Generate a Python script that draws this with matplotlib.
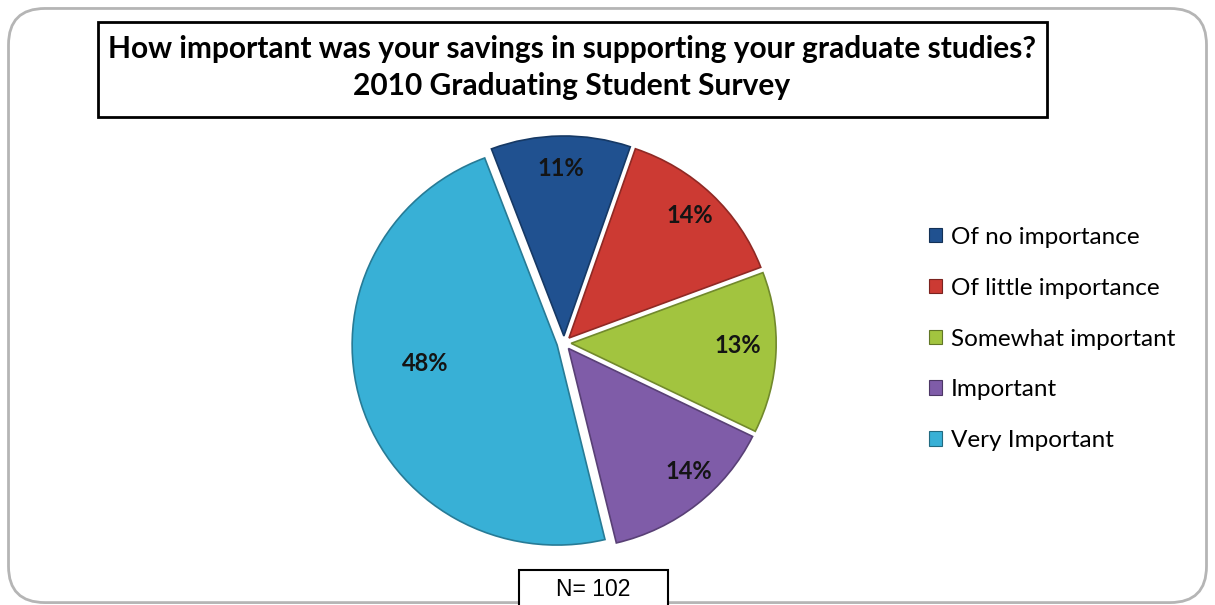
import matplotlib
matplotlib.use("Agg")
import numpy as np
import matplotlib.pyplot as plt
from matplotlib.colors import to_rgb
from matplotlib.patches import FancyBboxPatch, Rectangle, Patch

plt.rcParams['font.family'] = ['Lato', 'DejaVu Sans']

categories = ["Of no importance", "Of little importance", "Somewhat important",
              "Important", "Very Important"]
percents = [11, 14, 13, 14, 48]
colors = ["#205190", "#cc3a33", "#a2c43f", "#7f5ca8", "#38b0d6"]
title_lines = ["How important was your savings in supporting your graduate studies?",
               "2010 Graduating Student Survey"]
n_label = "N= 102"


def shade(c, f):
    r, g, b = to_rgb(c)
    return (r * f, g * f, b * f)


def main():
    fig = plt.figure(figsize=(12.15, 6.05), dpi=100)

    # outer rounded frame, kept behind everything
    frame = FancyBboxPatch((0.007, 0.004), 0.986, 0.982,
                           boxstyle="round,pad=0,rounding_size=0.03",
                           transform=fig.transFigure, facecolor="none",
                           edgecolor="#b5b5b5", linewidth=2, mutation_aspect=2,
                           zorder=-5)
    fig.patches.append(frame)

    # title box
    fig.patches.append(Rectangle((98 / 1215, 1 - 117 / 605), 949 / 1215, 95 / 605,
                                 transform=fig.transFigure, facecolor="white",
                                 edgecolor="black", linewidth=2, zorder=-4))
    fig.text(572 / 1215, 1 - 49 / 605, title_lines[0], ha="center", va="center",
             fontsize=21.5, fontweight="bold")
    fig.text(572 / 1215, 1 - 86 / 605, title_lines[1], ha="center", va="center",
             fontsize=21.5, fontweight="bold")

    # pie, a touch flatter vertically
    cx, cy, hx, hy = 564, 605 - 343, 225.5, 220
    ax = fig.add_axes([(cx - hx) / 1215, (cy - hy) / 605, 2 * hx / 1215, 2 * hy / 605])
    wedges, _ = ax.pie(percents, colors=colors, startangle=110.7, counterclock=False,
                       explode=[0.035] * len(percents),
                       wedgeprops=dict(linewidth=1.2))
    for w, c in zip(wedges, colors):
        w.set_edgecolor(shade(c, 0.7))
    ax.set_xlim(-1.1, 1.1)
    ax.set_ylim(-1.1, 1.1)
    ax.set_aspect("auto")
    ax.axis("off")

    # percentage labels: distance from centre and angle nudge per slice
    label_r = [0.84, 0.85, 0.815, 0.85, 0.65]
    label_turn = [0, 0, 2, 5, -9]
    for w, p, r, t in zip(wedges, percents, label_r, label_turn):
        mid = np.deg2rad((w.theta1 + w.theta2) / 2 + t)
        ox, oy = w.center
        ax.text(ox + r * np.cos(mid), oy + r * np.sin(mid), f"{p}%",
                ha="center", va="center", fontsize=17, fontweight="bold",
                color="#141414")

    handles = [Patch(facecolor=c, edgecolor=shade(c, 0.6), linewidth=0.8) for c in colors]
    fig.legend(handles, categories, loc="upper left",
               bbox_to_anchor=(919 / 1215, 1 - 217 / 605), frameon=False,
               fontsize=17.5, handlelength=0.55, handleheight=0.55,
               handletextpad=0.35, labelspacing=1.23, borderaxespad=0)

    # sample size box
    fig.patches.append(Rectangle((519 / 1215, -0.02), 149 / 1215, (605 - 570) / 605 + 0.02,
                                 transform=fig.transFigure, facecolor="white",
                                 edgecolor="black", linewidth=1.5, zorder=-4))
    fig.text(593 / 1215, 1 - 589 / 605, n_label, ha="center", va="center",
             fontsize=16.5, family="Liberation Sans")

    fig.savefig("out.png", dpi=100)


if __name__ == "__main__":
    main()
